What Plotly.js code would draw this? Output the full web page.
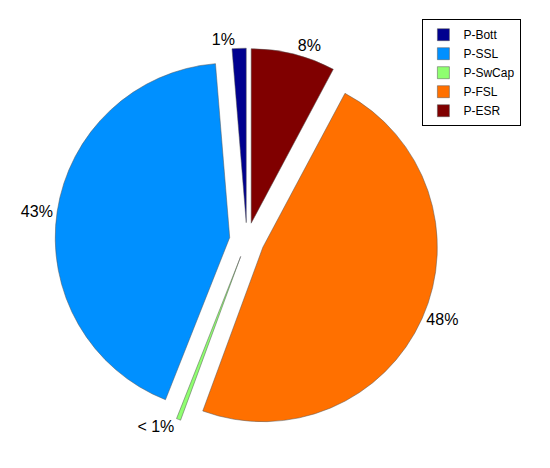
<!DOCTYPE html>
<html>
<head>
<meta charset="utf-8">
<script src="https://cdn.plot.ly/plotly-3.0.1.min.js"></script>
<style>html,body{margin:0;padding:0;background:#fff;}#chart{width:550px;height:468px;}</style>
</head>
<body>
<div id="chart"></div>
<script>
const categories = ["P-Bott", "P-SSL", "P-SwCap", "P-FSL", "P-ESR"];
const values = [1.3, 42.7, 0.4, 47.8, 7.8];
const labelsText = ["1%", "43%", "< 1%", "48%", "8%"];
const colors = ["#00008F", "#0090FF", "#8FFF70", "#FF7000", "#800000"];

const trace = {
  type: "pie",
  labels: categories,
  values: values,
  text: labelsText,
  textinfo: "text",
  texttemplate: "%{text}",
  textposition: "outside",
  sort: false,
  direction: "counterclockwise",
  rotation: -4.68,
  pull: [0.1, 0.1, 0.1, 0.1, 0.1],
  marker: {colors: colors, line: {color: "#555555", width: 0.5}},
  outsidetextfont: {family: "Liberation Sans, Arial, sans-serif", size: 16, color: "#000"},
  domain: {x: [0.1, 0.798], y: [0.0769, 0.897]},
  hoverinfo: "label+percent"
};

const layout = {
  width: 550,
  height: 468,
  margin: {l: 0, r: 0, t: 0, b: 0},
  paper_bgcolor: "#fff",
  showlegend: true,
  legend: {
    x: 0.768, y: 0.959, xanchor: "left", yanchor: "top",
    bgcolor: "#fff", bordercolor: "#000", borderwidth: 1,
    font: {family: "Liberation Sans, Arial, sans-serif", size: 12, color: "#000"},
    traceorder: "normal"
  }
};

Plotly.newPlot("chart", [trace], layout, {displayModeBar: false, staticPlot: true});
</script>
</body>
</html>
